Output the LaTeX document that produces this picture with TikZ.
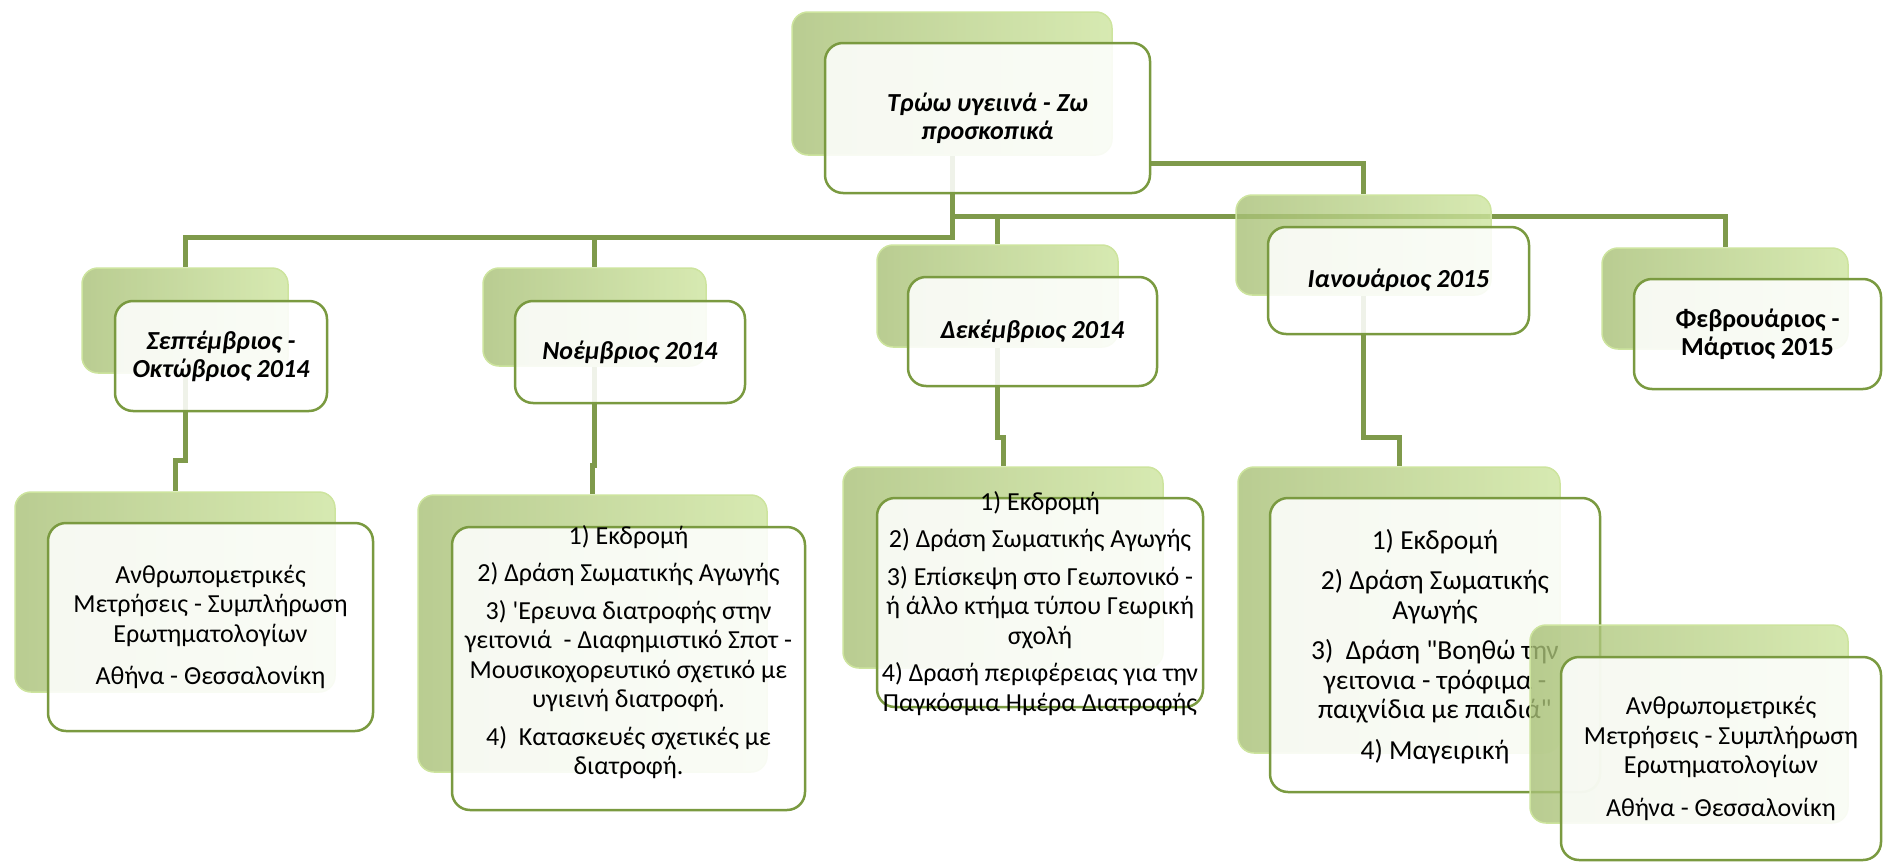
\documentclass[tikz,border=0pt]{standalone}
\usepackage{fontspec}
\setmainfont{Carlito}[Ligatures=TeXOff]
\usetikzlibrary{backgrounds}
\definecolor{linkgreen}{RGB}{127,154,75}
\definecolor{edgegreen}{RGB}{122,154,64}
\definecolor{backshade}{RGB}{168,192,118}
\definecolor{backgreen}{RGB}{182,207,132}
\definecolor{backlight}{RGB}{205,228,158}
\begin{document}
\begin{tikzpicture}[x=1pt,y=-1pt,
  backcard/.style={rectangle,rounded corners=16pt,inner sep=0pt,left color=backshade,middle color=backgreen,right color=backlight,fill opacity=0.8,draw=backlight,line width=1.5pt},
  frontcard/.style={rectangle,rounded corners=18pt,inner sep=0pt,fill=white,fill opacity=0.88,text opacity=1,draw=edgegreen,line width=2.5pt,align=center},
  title/.style={font=\fontsize{26}{28}\selectfont\bfseries\itshape},
  body/.style={align=center,font=\fontsize{26}{29.5}\selectfont},
  link/.style={draw=linkgreen,line width=5pt}]
  \useasboundingbox (0,0) rectangle (1883,862);

  % top row
  \node[backcard,minimum width=320pt,minimum height=143pt] (rootB) at (952,83.5) {};
  \node[frontcard,title,minimum width=325pt,minimum height=150pt] (rootF) at (987.5,118) {Τρώω υγειινά - Ζω\\προσκοπικά};

  \node[backcard,minimum width=206pt,minimum height=105pt] (sepB) at (185,320.5) {};
  \node[frontcard,title,minimum width=212pt,minimum height=110pt] (sepF) at (221,356) {Σεπτέμβριος -\\Οκτώβριος 2014};

  \node[backcard,minimum width=223pt,minimum height=98pt] (novB) at (594.5,317) {};
  \node[frontcard,title,minimum width=230pt,minimum height=102pt] (novF) at (630,352) {Νοέμβριος 2014};

  \node[backcard,minimum width=241pt,minimum height=102pt] (decB) at (997.5,296) {};
  \node[frontcard,title,minimum width=249pt,minimum height=109pt] (decF) at (1032.5,331.5) {Δεκέμβριος 2014};

  \node[backcard,minimum width=255pt,minimum height=100pt] (janB) at (1363.5,245) {};
  \node[frontcard,title,minimum width=261pt,minimum height=107pt] (janF) at (1398.5,280.5) {Ιανουάριος 2015};

  \node[backcard,minimum width=246pt,minimum height=101pt] (febB) at (1725,298.5) {};
  \node[frontcard,title,font=\fontsize{26}{28}\selectfont\bfseries,minimum width=247pt,minimum height=110pt] (febF) at (1757.5,334) {Φεβρουάριος -\\Μάρτιος 2015};

  % bottom row
  \node[backcard,minimum width=320pt,minimum height=200pt] (sepLB) at (175,592) {};
  \node[frontcard,minimum width=325pt,minimum height=208pt] (sepLF) at (210.5,627) {};
  \node[body] (sepLT) at (sepLF) {Ανθρωπομετρικές\\Μετρήσεις - Συμπλήρωση\\Ερωτηματολογίων\\[13pt]Αθήνα - Θεσσαλονίκη};

  \node[backcard,minimum width=349pt,minimum height=277pt] (novLB) at (592.5,633.5) {};
  \node[frontcard,minimum width=353pt,minimum height=283pt] (novLF) at (628.5,668.5) {};
  \node[body] (novLT) at (628.5,652) {1) Εκδρομή\\[8pt]2) Δράση Σωματικής Αγωγής\\[8pt]3) 'Ερευνα διατροφής στην\\γειτονιά~ - Διαφημιστικό Σποτ -\\Μουσικοχορευτικό σχετικό με\\υγιεινή διατροφή.\\[8pt]4)~ Κατασκευές σχετικές με\\διατροφή.};

  \node[backcard,minimum width=320pt,minimum height=201pt] (decLB) at (1003,567.5) {};
  \node[frontcard,minimum width=326pt,minimum height=209pt] (decLF) at (1040,602.5) {};
  \node[body] (decLT) at (1040,603.5) {1) Εκδρομή\\[8pt]2) Δράση Σωματικής Αγωγής\\[8pt]3) Επίσκεψη στο Γεωπονικό -\\ή άλλο κτήμα τύπου Γεωρική\\σχολή\\[8pt]4) Δρασή περιφέρειας για την\\Παγκόσμια Ημέρα Διατροφής};

  \node[backcard,minimum width=322pt,minimum height=286pt] (janLB) at (1399,610) {};
  \node[frontcard,minimum width=330pt,minimum height=294pt] (janLF) at (1435,645) {};
  \node[body,font=\fontsize{27.5}{29.5}\selectfont] (janLT) at (1435,646.5) {1) Εκδρομή\\[11pt]2) Δράση Σωματικής\\Αγωγής\\[11pt]3)~ Δράση "Βοηθώ την\\γειτονια - τρόφιμα -\\παιχνίδια με παιδιά"\\[11pt]4) Μαγειρική};

  \node[backcard,minimum width=318pt,minimum height=198pt] (brB) at (1689,724) {};
  \node[frontcard,minimum width=320pt,minimum height=203pt] (brF) at (1721,758.5) {};
  \node[body] (brT) at (brF) {Ανθρωπομετρικές\\Μετρήσεις - Συμπλήρωση\\Ερωτηματολογίων\\[13pt]Αθήνα - Θεσσαλονίκη};

  % connectors behind the cards
  \begin{pgfonlayer}{background}
    \draw[link] (rootB.south) -- ++(0,82) -| (sepB.north);
    \draw[link] (rootB.south) -- ++(0,82) -| (novB.north);
    \draw[link] (rootB.south) -- ++(0,61) -| (decB.north);
    \draw[link] (rootB.south) -- ++(0,61) -| (febB.north);
    \draw[link] ([yshift=-45pt]rootF.east) -| (janB.north);
    \draw[link] (sepB.south) -- ++(0,87) -| (sepLB.north);
    \draw[link] (novB.south) -- ++(0,99) -| (novLB.north);
    \draw[link] (decB.south) -- ++(0,90) -| (decLB.north);
    \draw[link] (janB.south) -- ++(0,142) -| (janLB.north);
  \end{pgfonlayer}
\end{tikzpicture}
\end{document}
